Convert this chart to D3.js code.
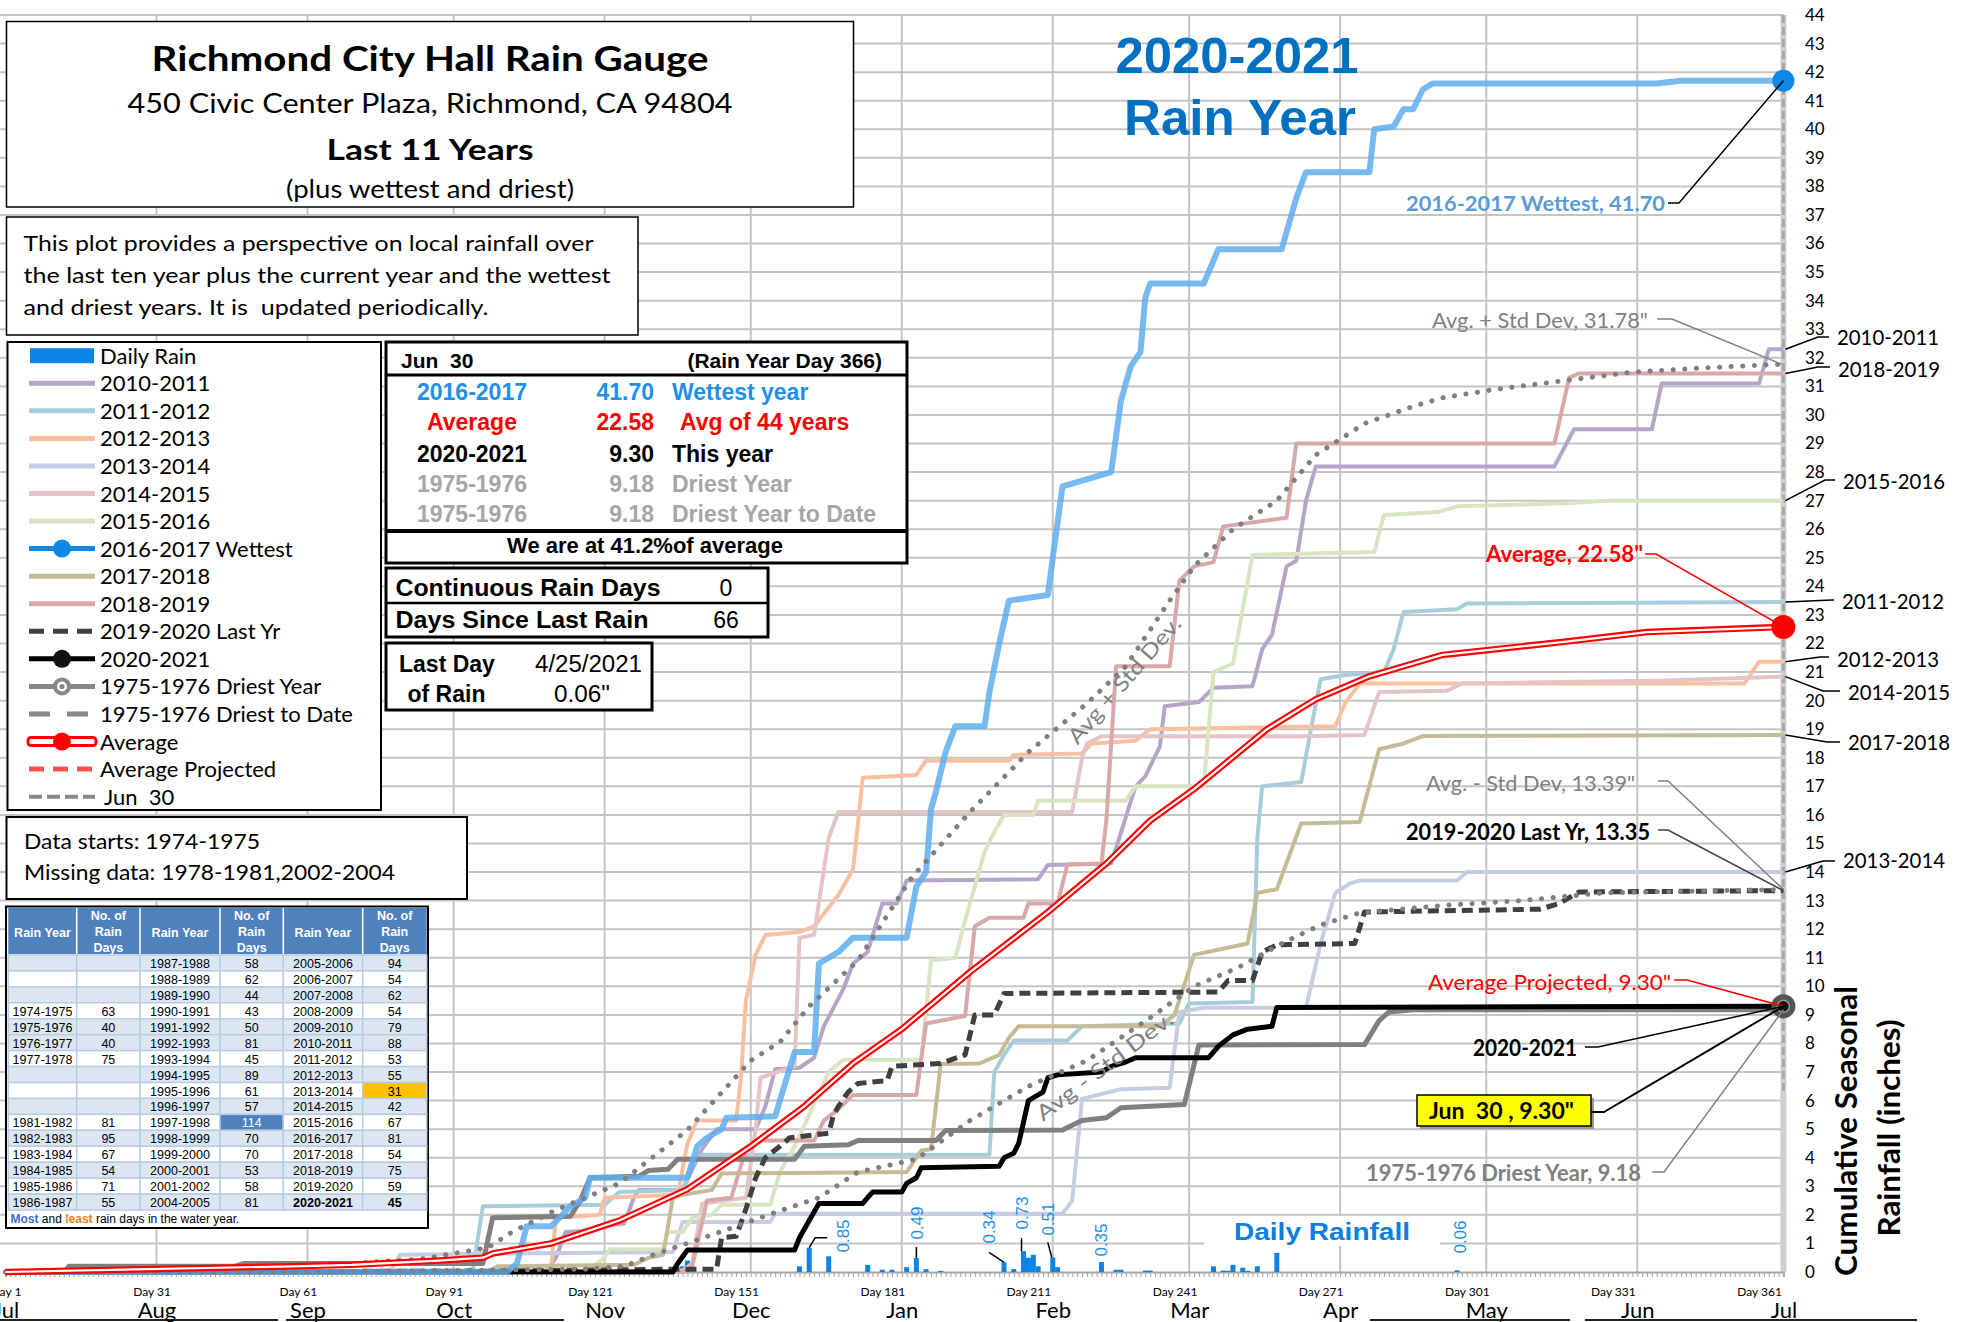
<!DOCTYPE html>
<html lang="en">
<head>
<meta charset="UTF-8">
<title>Richmond City Hall Rain Gauge</title>
<script src="https://d3js.org/d3.v7.min.js"></script>
<style>
  body { margin: 0; background: #fff; }
  svg { display: block; }
  text { font-family: Lato, "Liberation Sans", sans-serif; }
  .ar { font-family: "Liberation Sans", Arial, sans-serif; }
</style>
</head>
<body>
<svg id="chart" width="1965" height="1322"></svg>
<script>
// ---------- data ----------
const dayTicks = [1, 31, 61, 91, 121, 151, 181, 211, 241, 271, 301, 331, 361];
const monthStarts = [1, 32, 63, 93, 124, 154, 185, 216, 244, 275, 305, 336, 366];
const monthNames = ["Jul", "Aug", "Sep", "Oct", "Nov", "Dec", "Jan", "Feb", "Mar", "Apr", "May", "Jun", "Jul"];
const inchTicks = d3.range(0, 45);

// cumulative rainfall, [rain-year day, inches]
const s2010 = [[1,0],[112,0],[114,0.5],[116,1.4],[121,1.45],[123,1.6],[128,1.7],[130,2.6],[131,2.87],[140,2.87],[142,3.6],[144,4.3],[147,5.0],[155,5.0],[157,5.8],[159,7.1],[164,7.15],[167,7.5],[169,8.6],[173,9.9],[175,10.8],[178,11.2],[181,12.9],[184,12.9],[186,13.7],[213,13.75],[215,14.25],[228,14.3],[233,17.0],[235,17.35],[238,18.4],[239,19.8],[246,19.95],[249,20.45],[257,20.5],[259,21.8],[261,22.3],[264,24.7],[266,24.9],[268,27.0],[270,28.2],[319,28.2],[323,29.5],[339,29.5],[341,31.1],[361,31.1],[363,32.3],[366,32.3]];
const s2011 = [[1,0],[95,0.05],[97,0.1],[99,2.3],[124,2.35],[127,2.8],[140,2.87],[142,3.8],[144,4.1],[203,4.1],[204,7.0],[206,7.6],[208,8.1],[219,8.1],[222,8.6],[242,8.7],[244,9.4],[257,9.45],[258,15.2],[259,17.0],[267,17.15],[269,19.0],[271,20.75],[276,20.9],[284,21.0],[286,21.8],[288,23.1],[299,23.2],[301,23.4],[366,23.45]];
const s2012 = [[1,0],[110,0.05],[113,0.1],[114,1.9],[123,2.0],[124,2.6],[139,2.7],[141,4.5],[143,5.3],[151,5.3],[152,6.8],[153,9.5],[155,11.1],[157,11.8],[164,11.9],[167,12.1],[172,13.2],[175,14.1],[177,17.3],[188,17.4],[190,17.9],[207,17.9],[208,18.1],[222,18.15],[224,18.5],[233,18.6],[236,19.0],[274,19.1],[276,19.9],[279,20.6],[358,20.6],[361,21.36],[366,21.36]];
const s2013 = [[1,0],[80,0],[82,0.6],[106,0.65],[138,0.7],[140,1.75],[158,1.75],[159,2.04],[218,2.04],[220,2.5],[222,6.06],[230,6.4],[240,6.45],[242,9.1],[247,9.25],[268,9.25],[271,11.5],[274,13.27],[277,13.6],[279,13.7],[299,13.7],[301,14.0],[366,14.0]];
const s2014 = [[1,0],[140,0.05],[142,0.3],[144,2.4],[153,2.6],[155,5.0],[156,6.8],[163,7.2],[164,11.7],[167,11.8],[170,15.2],[172,16.1],[220,16.1],[222,18.0],[223,18.5],[226,18.75],[267,18.75],[280,18.8],[283,20.3],[297,20.35],[300,20.6],[340,20.7],[366,20.84]];
const s2015 = [[1,0],[120,0],[124,0.5],[125,0.8],[136,0.8],[137,1.4],[140,1.4],[142,1.9],[146,2.0],[148,2.35],[158,2.35],[160,3.5],[163,4.4],[166,5.5],[170,7.0],[173,7.43],[189,7.43],[191,10.9],[196,11.0],[198,12.3],[202,14.7],[204,15.4],[206,16.0],[212,16.0],[213,16.5],[231,16.5],[233,17.0],[247,17.0],[249,21.0],[253,21.3],[257,25.1],[282,25.2],[284,26.5],[295,26.6],[299,26.8],[320,26.9],[330,27.0],[366,27.0]];
const s2016 = [[1,0],[104,0],[106,0.3],[108,1.6],[113,1.6],[117,2.3],[120,2.6],[121,3.3],[141,3.3],[143,4.4],[145,4.7],[148,5.0],[149,5.4],[159,5.45],[163,7.7],[167,7.7],[168,10.8],[172,11.2],[175,11.7],[186,11.7],[188,13.5],[190,14.0],[191,16.2],[192,16.8],[194,18.2],[196,19.1],[202,19.1],[203,20.3],[205,22.0],[207,23.5],[215,23.7],[216,25.0],[218,27.5],[228,28.0],[230,30.5],[232,31.7],[234,32.2],[235,34.1],[236,34.6],[247,34.6],[250,35.8],[263,35.8],[266,37.6],[268,38.5],[281,38.5],[282,40.0],[286,40.1],[288,40.7],[290,40.7],[292,41.4],[294,41.6],[340,41.6],[345,41.7],[366,41.7]];
const s2017 = [[1,0],[100,0],[102,0.2],[130,0.25],[133,0.5],[136,0.6],[138,2.6],[140,2.7],[146,2.87],[148,3.45],[186,3.5],[189,4.25],[191,4.3],[193,7.28],[201,7.3],[205,7.6],[207,8.2],[209,8.6],[238,8.6],[241,9.0],[245,11.1],[256,11.5],[258,13.27],[262,13.4],[267,15.7],[279,15.75],[283,18.3],[288,18.5],[292,18.76],[366,18.8]];
const s2018 = [[1,0],[140,0],[142,0.2],[145,2.5],[150,2.6],[153,4.3],[155,4.6],[167,4.6],[169,5.3],[172,5.7],[175,6.2],[188,6.2],[190,8.7],[198,8.96],[200,12.1],[203,12.4],[210,12.4],[211,12.9],[217,12.9],[219,14.26],[226,14.3],[227,15.8],[229,21.2],[240,21.2],[242,24.2],[245,24.7],[249,24.85],[251,26.1],[264,26.4],[266,29.0],[319,29.0],[322,31.3],[324,31.45],[366,31.45]];
const s2019 = [[1,0],[100,0.03],[140,0.1],[147,0.1],[148,1.2],[151,1.25],[153,2.2],[155,3.3],[157,4.0],[160,4.4],[162,4.7],[170,4.86],[171,5.5],[172,5.8],[174,6.3],[176,6.6],[182,6.7],[183,7.2],[193,7.3],[198,7.6],[200,9.0],[204,9.0],[206,9.75],[250,9.8],[252,10.2],[257,10.2],[259,11.2],[262,11.45],[278,11.5],[280,12.6],[316,12.7],[320,12.9],[324,13.3],[366,13.35]];
const s2020 = [[1,0],[138,0],[139,0.3],[141,0.77],[163,0.77],[164,1.2],[166,1.8],[168,2.4],[177,2.4],[178,2.6],[179,2.8],[185,2.8],[186,3.1],[188,3.3],[189,3.65],[205,3.7],[206,4.0],[208,4.16],[209,4.5],[211,6.0],[213,6.2],[214,6.3],[215,6.8],[217,6.9],[226,7.0],[228,7.2],[231,7.35],[233,7.5],[248,7.5],[250,7.9],[253,8.3],[256,8.5],[261,8.6],[262,9.26],[300,9.28],[366,9.3]];
const s1975 = [[1,0],[13,0],[14,0.2],[48,0.2],[50,0.3],[99,0.3],[101,1.9],[117,1.95],[119,2.5],[121,3.3],[131,3.35],[133,3.55],[137,3.6],[139,3.95],[163,3.95],[165,4.4],[174,4.45],[176,4.6],[192,4.6],[194,4.95],[218,4.97],[222,5.3],[227,5.4],[230,5.75],[243,5.86],[246,7.95],[280,7.96],[283,8.8],[285,9.1],[290,9.18],[366,9.18]];
const sAverage = [[1,0],[30,0.1],[60,0.2],[72,0.25],[90,0.4],[99,0.5],[101,0.65],[113,1.0],[127,1.8],[141,2.9],[154,4.4],[165,5.8],[175,7.3],[185,8.5],[199,10.5],[215,12.6],[227,14.3],[236,15.8],[245,16.9],[260,19.0],[270,20.05],[281,20.85],[296,21.6],[321,22.06],[338,22.4],[366,22.58]];
const sAvgPlus = [[1,0],[30,0.1],[60,0.2],[72,0.3],[86,0.45],[100,0.85],[105,1.4],[114,2.17],[127,3.1],[141,4.97],[154,7.4],[160,8.05],[166,9.3],[176,10.9],[187,13.8],[199,16.1],[211,18.2],[223,19.9],[231,21.2],[240,23.5],[245,24.7],[253,26.0],[262,27.0],[270,28.6],[280,29.7],[290,30.3],[296,30.6],[307,30.9],[321,31.2],[335,31.5],[350,31.65],[366,31.78]];
const sAvgMinus = [[1,0],[60,0],[120,0.1],[128,0.2],[134,0.6],[146,1.3],[161,2.2],[168,2.6],[176,3.5],[188,3.95],[199,5.3],[211,6.5],[223,7.4],[236,8.9],[245,10.0],[254,10.65],[263,11.5],[271,12.15],[279,12.57],[296,12.83],[312,13.0],[329,13.27],[366,13.39]];

// daily rain 2020-2021
const rainDays = [140,141,164,166,170,178,181,183,186,188,190,193,206,208,210,211,212,213,216,217,226,229,230,235,236,249,251,252,253,255,256,258,262,299];
const rainAmts = [0.2,0.4,0.2,0.85,0.55,0.25,0.08,0.08,0.17,0.49,0.1,0.04,0.34,0.1,0.73,0.5,0.6,0.2,0.51,0.17,0.35,0.08,0.08,0.05,0.05,0.2,0.05,0.04,0.25,0.15,0.04,0.2,0.67,0.06];
const labelledRainDays = [166, 188, 206, 210, 216, 226, 299];

// end-of-season totals used by the call-outs
const finalWettest = 41.70, finalAverage = 22.58, finalAvgPlus = 31.78, finalAvgMinus = 13.39;
const finalLastYr = 13.35, finalThisYr = 9.30, finalDriest = 9.18;

// summary table
const infoYears = ["2016-2017", "Average", "2020-2021", "1975-1976", "1975-1976"];
const infoTotals = ["41.70", "22.58", "9.30", "9.18", "9.18"];
const infoNotes = ["Wettest year", "Avg of 44 years", "This year", "Driest Year", "Driest Year to Date"];

// rain-days table
const rdYearA = ["","","","1974-1975","1975-1976","1976-1977","1977-1978","","","","1981-1982","1982-1983","1983-1984","1984-1985","1985-1986","1986-1987"];
const rdDaysA = ["","","","63","40","40","75","","","","81","95","67","54","71","55"];
const rdYearB = ["1987-1988","1988-1989","1989-1990","1990-1991","1991-1992","1992-1993","1993-1994","1994-1995","1995-1996","1996-1997","1997-1998","1998-1999","1999-2000","2000-2001","2001-2002","2004-2005"];
const rdDaysB = ["58","62","44","43","50","81","45","89","61","57","114","70","70","53","58","81"];
const rdYearC = ["2005-2006","2006-2007","2007-2008","2008-2009","2009-2010","2010-2011","2011-2012","2012-2013","2013-2014","2014-2015","2015-2016","2016-2017","2017-2018","2018-2019","2019-2020","2020-2021"];
const rdDaysC = ["94","54","62","54","79","88","53","55","31","42","67","81","54","75","59","45"];

const legendNames = ["Daily Rain","2010-2011","2011-2012","2012-2013","2013-2014","2014-2015","2015-2016","2016-2017 Wettest","2017-2018","2018-2019","2019-2020 Last Yr","2020-2021","1975-1976 Driest Year","1975-1976 Driest to Date","Average","Average Projected","Jun  30"];

// ---------- setup ----------
const svg = d3.select("#chart");
const x = d3.scaleLinear().domain([1, 366]).range([5.5, 1783.4]);
const y = d3.scaleLinear().domain([0, 44]).range([1272, 15]);
const line = d3.line().x(d => x(d[0])).y(d => y(d[1]));

function txt(g, t, o) {
  const el = g.append("text").attr("x", o.x).attr("y", o.y).text(t)
    .attr("font-size", o.size).attr("fill", o.color || "#000")
    .attr("text-anchor", o.anchor || "start")
    .style("white-space", "pre");
  if (o.bold) el.attr("font-weight", "bold");
  if (o.cls) el.attr("class", o.cls);
  if (o.len) el.attr("textLength", o.len).attr("lengthAdjust", "spacingAndGlyphs");
  if (o.rot) el.attr("transform", `rotate(${o.rot},${o.x},${o.y})`);
  return el;
}

// ---------- grid ----------
const grid = svg.append("g");
grid.selectAll("line.h").data(inchTicks.slice(1)).join("line").attr("class", "h")
  .attr("x1", 0).attr("x2", x(366)).attr("y1", d => y(d)).attr("y2", d => y(d))
  .attr("stroke", "#c4c4c4").attr("stroke-width", 2);
grid.selectAll("line.v").data(monthStarts.slice(1, -1)).join("line").attr("class", "v")
  .attr("x1", d => x(d)).attr("x2", d => x(d)).attr("y1", y(0)).attr("y2", y(44))
  .attr("stroke", "#c4c4c4").attr("stroke-width", 2);

// sheet cell edges below the chart
[[0, 278], [286, 564], [1370, 1570], [1585, 1917]].forEach(([a, b]) =>
  svg.append("line").attr("x1", a).attr("x2", b).attr("y1", 1320).attr("y2", 1320).attr("stroke", "#222").attr("stroke-width", 2));

// Jun 30 marker
svg.append("line").attr("x1", x(366)).attr("x2", x(366)).attr("y1", y(44)).attr("y2", y(0))
  .attr("stroke", "#cfcfcf").attr("stroke-width", 6);
svg.append("line").attr("x1", x(366)).attr("x2", x(366)).attr("y1", y(44)).attr("y2", y(6.2))
  .attr("stroke", "#a6a6a6").attr("stroke-width", 3).attr("stroke-dasharray", "8,4");

// ---------- axes ----------
const xAx = svg.append("g").attr("transform", `translate(0,${y(0)})`)
  .call(d3.axisBottom(x).tickValues(d3.range(1, 367)).tickSize(5).tickFormat(""));
xAx.select(".domain").attr("stroke", "#a6a6a6").attr("stroke-width", 2);
xAx.selectAll(".tick line").attr("stroke", "#a6a6a6");

const dayAx = svg.append("g").attr("transform", `translate(0,${y(0)})`)
  .call(d3.axisBottom(x).tickValues(dayTicks).tickSize(0).tickFormat(d => "Day " + d));
dayAx.select(".domain").remove();
dayAx.selectAll("text").attr("y", 15).attr("font-size", 12).attr("font-family", "Lato, sans-serif").attr("fill", "#000");

const monAx = svg.append("g").attr("transform", `translate(0,${y(0)})`)
  .call(d3.axisBottom(x).tickValues(monthStarts).tickSize(0).tickFormat((d, i) => monthNames[i]));
monAx.select(".domain").remove();
monAx.selectAll("text").attr("y", 30).attr("font-size", 22).attr("font-family", "Lato, sans-serif").attr("fill", "#000");

const yAx = svg.append("g").attr("transform", `translate(1805,0)`)
  .call(d3.axisRight(y).tickValues(inchTicks).tickSize(0).tickPadding(0));
yAx.select(".domain").remove();
yAx.selectAll("text").attr("font-size", 17).attr("font-family", "Lato, sans-serif").attr("fill", "#000");

// ---------- daily rain bars ----------
const bars = svg.append("g");
bars.selectAll("rect").data(rainDays).join("rect")
  .attr("x", d => x(d) - 2.5).attr("width", 5)
  .attr("y", (d, i) => y(rainAmts[i])).attr("height", (d, i) => y(0) - y(rainAmts[i]))
  .attr("fill", "#0a84e6");

// ---------- series ----------
const plot = svg.append("g").attr("fill", "none").attr("stroke-linejoin", "round");
const pastel = [
  [s2010, "#b5a6c9"], [s2011, "#a7cddb"], [s2012, "#f7c1a1"], [s2013, "#c6cde2"],
  [s2014, "#e6c3c7"], [s2015, "#d8e4c2"], [s2017, "#c5bb96"], [s2018, "#d9a8a8"]
];
pastel.forEach(([d, c]) => plot.append("path").attr("d", line(d)).attr("stroke", c).attr("stroke-width", 4));
plot.append("path").attr("d", line(s1975)).attr("stroke", "#808080").attr("stroke-width", 5);
plot.append("path").attr("d", line(s2019)).attr("stroke", "#404040").attr("stroke-width", 5).attr("stroke-dasharray", "11,6");
plot.append("path").attr("d", line(s2020)).attr("stroke", "#000").attr("stroke-width", 5);
plot.append("path").attr("d", line(s2016)).attr("stroke", "#5eaeee").attr("stroke-width", 6).attr("opacity", 0.85);
[sAvgMinus, sAvgPlus].forEach(d => plot.append("path").attr("d", line(d)).attr("stroke", "#7f7f7f")
  .attr("stroke-width", 5).attr("stroke-linecap", "round").attr("stroke-dasharray", "0.1,11.5"));
plot.append("path").attr("d", line(sAverage)).attr("stroke", "#ff0000").attr("stroke-width", 6.5);
plot.append("path").attr("d", line(sAverage)).attr("stroke", "#fff").attr("stroke-width", 2.2);

// rain bar value labels
const bl = svg.append("g");
const barLab = [
  { dx: 34, cy: 1236, lead: [[0, 0], [6, -10], [18, -10]] },
  { dx: 1, cy: 1223, lead: [[0, 0], [0, -11]] },
  { dx: -15, cy: 1227, lead: [[0, 0], [-15, -10]] },
  { dx: -2, cy: 1213, lead: [[-2, 0], [-2, -13]] },
  { dx: -5, cy: 1219, lead: [[-1, 0], [-5, -15]] },
  { dx: 0, cy: 1240, lead: null },
  { dx: 3, cy: 1237, lead: null }
];
labelledRainDays.forEach((d, i) => {
  const v = rainAmts[rainDays.indexOf(d)];
  const p = barLab[i];
  const lx = x(d) + p.dx;
  txt(bl, v.toFixed(2), { x: lx + 6, y: p.cy, size: 17, color: "#1e8fe8", anchor: "middle", rot: -90, cls: "ar" });
  if (p.lead) {
    bl.append("path").attr("d", d3.line()(p.lead.map(q => [x(d) + q[0], y(v) + q[1]])))
      .attr("fill", "none").attr("stroke", "#000").attr("stroke-width", 1.5);
  }
});

// Daily Rainfall label
svg.append("rect").attr("x", 1204).attr("y", 1216).attr("width", 236).attr("height", 30).attr("fill", "#fff");
txt(svg, "Daily Rainfall", { x: 1234, y: 1240, size: 23, bold: true, color: "#0a7fe0", cls: "ar", len: 176 });

// ---------- end markers ----------
svg.append("circle").attr("cx", x(366)).attr("cy", y(finalWettest)).attr("r", 11).attr("fill", "#0e87e6");
svg.append("circle").attr("cx", x(366)).attr("cy", y(finalAverage)).attr("r", 12).attr("fill", "#ff0000");
svg.append("circle").attr("cx", x(366)).attr("cy", y(finalThisYr)).attr("r", 12).attr("fill", "#555");
svg.append("circle").attr("cx", x(366)).attr("cy", y(finalThisYr)).attr("r", 6).attr("fill", "#111").attr("stroke", "#999").attr("stroke-width", 1.5);

// ---------- call-outs ----------
const co = svg.append("g");
function lead(pts, color, w) {
  co.append("path").attr("d", d3.line()(pts)).attr("fill", "none").attr("stroke", color).attr("stroke-width", w || 1.5);
}
const ex = x(366);
txt(co, "2016-2017 Wettest, 41.70", { x: 1406, y: 211, size: 20, bold: true, color: "#5b9bd5", len: 259 });
lead([[1668, 203], [1679, 203], [ex, y(finalWettest)]], "#000");
txt(co, "Avg. + Std Dev, 31.78\"", { x: 1432, y: 328, size: 22, color: "#808080", len: 216 });
lead([[1657, 319], [1672, 319], [ex - 2, y(finalAvgPlus)]], "#808080");
txt(co, "Average, 22.58\"", { x: 1486, y: 562, size: 22, bold: true, color: "#ff0000", len: 157 });
lead([[1645, 554], [1656, 554], [ex, y(finalAverage)]], "#ff0000");
txt(co, "Avg. - Std Dev, 13.39\"", { x: 1426, y: 791, size: 22, color: "#808080", len: 209 });
lead([[1658, 781], [1668, 781], [ex, y(finalAvgMinus)]], "#808080");
txt(co, "2019-2020 Last Yr, 13.35", { x: 1406, y: 840, size: 22, bold: true, color: "#000", len: 244 });
lead([[1658, 830], [1668, 830], [ex, y(finalLastYr)]], "#404040");
txt(co, "Average Projected, 9.30\"", { x: 1428, y: 990, size: 22, color: "#ff0000", len: 243 });
lead([[1674, 980], [1687, 980], [ex, y(finalThisYr)]], "#ff0000");
txt(co, "2020-2021", { x: 1473, y: 1056, size: 22, bold: true, color: "#000", len: 104 });
lead([[1585, 1047], [1598, 1047], [ex, y(finalThisYr)]], "#000");
co.append("rect").attr("x", 1420).attr("y", 1098).attr("width", 174).attr("height", 31).attr("fill", "#999");
co.append("rect").attr("x", 1417).attr("y", 1095).attr("width", 174).attr("height", 31).attr("fill", "#ffff00").attr("stroke", "#000").attr("stroke-width", 1.5);
txt(co, "Jun  30 , 9.30\"", { x: 1429, y: 1119, size: 22, bold: true, color: "#000", len: 145 });
lead([[1591, 1112], [1604, 1112], [ex, y(finalThisYr)]], "#000", 2);
txt(co, "1975-1976 Driest Year, 9.18", { x: 1366, y: 1181, size: 22, bold: true, color: "#808080", len: 275 });
lead([[1652, 1172], [1664, 1172], [ex, y(finalDriest)]], "#808080");

// rotated std-dev labels
txt(co, "Avg + Std Dev.", { x: 1130, y: 685, size: 21, color: "#808080", anchor: "middle", rot: -49, len: 160 });
txt(co, "Avg - Std Dev.", { x: 1109, y: 1072, size: 21, color: "#808080", anchor: "middle", rot: -37, len: 165 });

// right-hand year labels
const yrLab = [
  ["2010-2011", s2010, 1837, 345, 337, 1818],
  ["2018-2019", s2018, 1838, 377, 367, 1818],
  ["2015-2016", s2015, 1843, 489, 480, 1825],
  ["2011-2012", s2011, 1842, 609, 600, 1832],
  ["2012-2013", s2012, 1837, 667, 657, 1820],
  ["2014-2015", s2014, 1848, 700, 691, 1823],
  ["2017-2018", s2017, 1848, 750, 742, 1827],
  ["2013-2014", s2013, 1843, 868, 861, 1823]
];
yrLab.forEach(([name, s, tx, ty, ly, kx]) => {
  txt(co, name, { x: tx, y: ty, size: 22, color: "#000", len: 102 });
  lead([[ex + 2, y(s[s.length - 1][1])], [kx, ly], [tx - 8, ly]], "#000");
});

// axis title
txt(svg, "Cumulative Seasonal", { x: 1857, y: 1131, size: 31, bold: true, anchor: "middle", rot: -90, len: 290 });
txt(svg, "Rainfall (inches)", { x: 1900, y: 1128, size: 31, bold: true, anchor: "middle", rot: -90, len: 217 });

// big title
txt(svg, "2020-2021", { x: 1237, y: 73, size: 50, bold: true, color: "#0070c0", anchor: "middle", cls: "ar", len: 243 });
txt(svg, "Rain Year", { x: 1240, y: 135, size: 50, bold: true, color: "#0070c0", anchor: "middle", cls: "ar", len: 232 });

// ---------- boxes ----------
function box(x0, y0, w, h, sw) {
  return svg.append("rect").attr("x", x0).attr("y", y0).attr("width", w).attr("height", h)
    .attr("fill", "#fff").attr("stroke", "#000").attr("stroke-width", sw || 1.5);
}
box(6.5, 21.5, 847, 185.5, 1.5);
txt(svg, "Richmond City Hall Rain Gauge", { x: 430, y: 71, size: 34, bold: true, anchor: "middle", len: 557 });
txt(svg, "450 Civic Center Plaza, Richmond, CA 94804", { x: 430, y: 113, size: 26, anchor: "middle", len: 605 });
txt(svg, "Last 11 Years", { x: 430, y: 160, size: 28, bold: true, anchor: "middle", len: 207 });
txt(svg, "(plus wettest and driest)", { x: 430, y: 198, size: 25, anchor: "middle", len: 288 });

box(6.5, 217, 631.5, 118, 1.5);
txt(svg, "This plot provides a perspective on local rainfall over", { x: 23.5, y: 251, size: 22, len: 570 });
txt(svg, "the last ten year plus the current year and the wettest", { x: 23.5, y: 283, size: 22, len: 587 });
txt(svg, "and driest years. It is  updated periodically.", { x: 23.5, y: 315, size: 22, len: 465 });

// legend
box(7.5, 342, 373.5, 468, 2);
const lg = svg.append("g");
legendNames.forEach((n, i) => {
  const cy = 355.7 + i * 27.56;
  txt(lg, n, { x: i === 16 ? 104 : 100, y: cy + 8, size: 22, color: "#000" });
  const ln = (c, w, dash) => lg.append("line").attr("x1", 29).attr("x2", 95).attr("y1", cy).attr("y2", cy)
    .attr("stroke", c).attr("stroke-width", w).attr("stroke-dasharray", dash || null);
  if (i === 0) lg.append("rect").attr("x", 30).attr("y", cy - 7.5).attr("width", 64).attr("height", 15).attr("fill", "#0a84e6");
  else if (i >= 1 && i <= 6) ln(pastel[i - 1][1], 5);
  else if (i === 7) { ln("#0e87e6", 5); lg.append("circle").attr("cx", 62).attr("cy", cy).attr("r", 9).attr("fill", "#0e87e6"); }
  else if (i === 8) ln(pastel[6][1], 5);
  else if (i === 9) ln(pastel[7][1], 5);
  else if (i === 10) ln("#404040", 5, "15,9");
  else if (i === 11) { ln("#000", 5); lg.append("circle").attr("cx", 62).attr("cy", cy).attr("r", 9).attr("fill", "#111"); }
  else if (i === 12) { ln("#878787", 5); lg.append("circle").attr("cx", 62).attr("cy", cy).attr("r", 7).attr("fill", "#fff").attr("stroke", "#878787").attr("stroke-width", 4); lg.append("circle").attr("cx", 62).attr("cy", cy).attr("r", 2.5).attr("fill", "#878787"); }
  else if (i === 13) ln("#878787", 5, "21,17");
  else if (i === 14) {
    lg.append("rect").attr("x", 28).attr("y", cy - 4).attr("width", 68).attr("height", 8).attr("rx", 3)
      .attr("fill", "#fff").attr("stroke", "#ff0000").attr("stroke-width", 3);
    lg.append("circle").attr("cx", 62).attr("cy", cy).attr("r", 9).attr("fill", "#ff0000");
  }
  else if (i === 15) ln("#ff5050", 5, "15,9");
  else ln("#888", 4, "13,5");
});

// summary table
box(386, 342, 521, 221, 3);
const it = svg.append("g").attr("class", "ar");
txt(it, "Jun  30", { x: 401, y: 368, size: 21, bold: true, cls: "ar" });
txt(it, "(Rain Year Day 366)", { x: 882, y: 368, size: 21, bold: true, anchor: "end", cls: "ar" });
it.append("line").attr("x1", 386).attr("x2", 907).attr("y1", 375).attr("y2", 375).attr("stroke", "#000").attr("stroke-width", 3);
const infoColors = ["#1e90e8", "#ff0000", "#000", "#a6a6a6", "#a6a6a6"];
const rowY = [400, 430, 461.5, 491.5, 521.5];
infoYears.forEach((yr, i) => {
  txt(it, yr, { x: 472, y: rowY[i], size: 23, bold: true, anchor: "middle", color: infoColors[i], cls: "ar" });
  txt(it, infoTotals[i], { x: 654, y: rowY[i], size: 23, bold: true, anchor: "end", color: infoColors[i], cls: "ar" });
  txt(it, infoNotes[i], { x: i === 1 ? 680 : 672, y: rowY[i], size: 23, bold: true, color: infoColors[i], cls: "ar" });
});
it.append("line").attr("x1", 386).attr("x2", 907).attr("y1", 531).attr("y2", 531).attr("stroke", "#000").attr("stroke-width", 4);
txt(it, "We are at 41.2%of average", { x: 645, y: 553, size: 22, bold: true, anchor: "middle", cls: "ar" });

box(386, 568, 382, 69, 3);
svg.append("line").attr("x1", 386).attr("x2", 768).attr("y1", 603).attr("y2", 603).attr("stroke", "#000").attr("stroke-width", 2.5);
txt(svg, "Continuous Rain Days", { x: 395.5, y: 596, size: 23, bold: true, cls: "ar", len: 265 });
txt(svg, "0", { x: 726, y: 596, size: 23, anchor: "middle", cls: "ar" });
txt(svg, "Days Since Last Rain", { x: 395.5, y: 628, size: 23, bold: true, cls: "ar", len: 253 });
txt(svg, "66", { x: 726, y: 628, size: 23, anchor: "middle", cls: "ar" });

box(386, 643, 266, 67, 3);
txt(svg, "Last Day", { x: 399, y: 672, size: 23, bold: true, cls: "ar" });
txt(svg, "of Rain", { x: 407.5, y: 702, size: 23, bold: true, cls: "ar" });
txt(svg, "4/25/2021", { x: 535, y: 672, size: 23, cls: "ar", len: 107 });
txt(svg, "0.06\"", { x: 554, y: 702, size: 23, cls: "ar", len: 56 });

box(6.5, 817, 460.5, 82, 2);
txt(svg, "Data starts: 1974-1975", { x: 24, y: 849, size: 22, len: 236 });
txt(svg, "Missing data: 1978-1981,2002-2004", { x: 24, y: 880, size: 22, len: 371 });

// rain-days table
box(6, 906.5, 422, 321.5, 2);
const colX = [8.3, 76.7, 140, 220, 283.3, 362.7, 426.7];
const tb = svg.append("g").attr("class", "ar");
tb.append("rect").attr("x", 8.3).attr("y", 908).attr("width", 418.4).attr("height", 46).attr("fill", "#4f81bd");
for (let c = 1; c < 6; c++) tb.append("line").attr("x1", colX[c]).attr("x2", colX[c]).attr("y1", 908).attr("y2", 954).attr("stroke", "#fff").attr("stroke-width", 1.5);
for (let c = 0; c < 6; c++) {
  const cx = (colX[c] + colX[c + 1]) / 2;
  if (c % 2 === 0) txt(tb, "Rain Year", { x: cx, y: 936.5, size: 12.5, bold: true, color: "#fff", anchor: "middle", cls: "ar" });
  else ["No. of", "Rain", "Days"].forEach((t, k) => txt(tb, t, { x: cx, y: 920 + k * 16, size: 12.5, bold: true, color: "#fff", anchor: "middle", cls: "ar" }));
}
const rowTop = d3.range(16).map(r => 955 + r * 15.94);
const lightRows = [0, 2, 4, 5, 7, 9, 11, 13, 15];
const cols = [rdYearA, rdDaysA, rdYearB, rdDaysB, rdYearC, rdDaysC];
rowTop.forEach((ty, r) => {
  cols.forEach((col, c) => {
    let fill = lightRows.includes(r) ? "#dce6f1" : "#fff";
    let color = "#000";
    if (col[r] === "114") { fill = "#4f81bd"; color = "#fff"; }
    if (col[r] === "31" && c === 5) fill = "#ffc000";
    tb.append("rect").attr("x", colX[c]).attr("y", ty).attr("width", colX[c + 1] - colX[c]).attr("height", 15.94)
      .attr("fill", fill).attr("stroke", "#b8cce4").attr("stroke-width", 1.5);
    txt(tb, col[r], { x: (colX[c] + colX[c + 1]) / 2, y: ty + 13, size: 12.5, anchor: "middle", color: color, bold: r === 15 && c >= 4, cls: "ar" });
  });
});
const foot = tb.append("text").attr("x", 10.5).attr("y", 1223).attr("font-size", 12).attr("class", "ar");
foot.append("tspan").attr("font-weight", "bold").attr("fill", "#3a6fc4").text("Most");
foot.append("tspan").attr("fill", "#000").text(" and ");
foot.append("tspan").attr("font-weight", "bold").attr("fill", "#f07e26").text("least");
foot.append("tspan").attr("fill", "#000").text(" rain days in the water year.");
</script>
</body>
</html>
